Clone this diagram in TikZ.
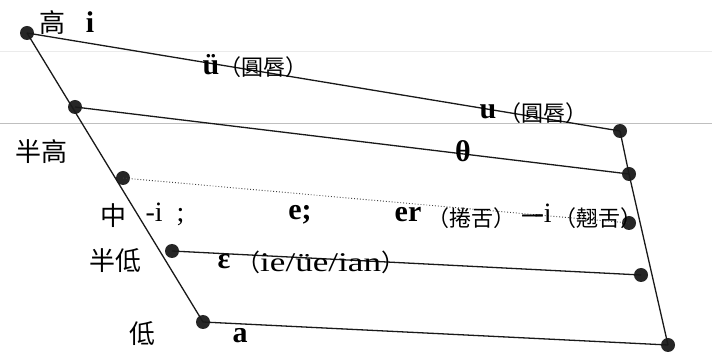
\documentclass[tikz,border=0pt]{standalone}
\usepackage{fontspec}
\usepackage{graphicx}
\setmainfont{Liberation Serif}
\newfontfamily\cjk{Noto Sans CJK TC}
\begin{document}
\begin{tikzpicture}[x=1pt,y=-1pt,
  dot/.style={circle,fill=black!85,inner sep=0pt,minimum size=14pt},
  edge/.style={line width=1.3pt,black!90},
  big/.style={inner sep=0pt,font=\cjk\fontsize{26}{28}\selectfont},
  small/.style={inner sep=0pt,font=\cjk\fontsize{22}{24}\selectfont},
  vowel/.style={inner sep=0pt,font=\bfseries\fontsize{30}{32}\selectfont},
  plain/.style={inner sep=0pt,font=\fontsize{28}{30}\selectfont},
  scanline/.style={line width=0.6pt,black!25}]
\useasboundingbox (0,0) rectangle (712,352);
\fill[white] (0,0) rectangle (712,352);
% scan artefact lines
\coordinate (sl1) at (0,123);
\coordinate (sl2) at (712,123);
\draw[scanline] (sl1) -- (sl2);
\coordinate (sk1) at (0,51);
\coordinate (sk2) at (712,51);
\draw[line width=0.5pt,black!8] (sk1) -- (sk2);
% points
\node[dot] (A) at (27,33) {};
\node[dot] (B) at (75,107) {};
\node[dot] (C) at (123,178) {};
\node[dot] (D) at (172,251) {};
\node[dot] (E) at (203,322) {};
\node[dot] (F) at (620,131) {};
\node[dot] (G) at (629,174) {};
\node[dot] (H) at (629,223) {};
\node[dot] (I) at (641,275) {};
\node[dot] (J) at (668,345) {};
% edges
\draw[edge] (A.center) -- (E.center);
\draw[edge] (F.center) -- (G.center) -- (J.center);
\draw[edge] (A.center) -- (F.center);
\draw[edge] (B.center) -- (G.center);
\draw[line width=0.9pt,dotted,black!75] (C.center) -- (H.center);
\draw[edge] (D.center) -- (I.center);
\draw[edge] (E.center) -- (J.center);
% labels
\node[big] (lgao) at (52,23) {高};
\node[vowel] (vi) at (90,22) {i};
\node[vowel] (vu1) at (211,65) {ü};
\node[small] (r1) at (263,67) {（圓唇）};
\node[vowel] (vu) at (488,112) {u};
\node[small] (r2) at (543,113) {（圓唇）};
\node[vowel] (vo) at (463,151) {θ};
\node[big] (lbg) at (41,152) {半高};
\node[big] (lzh) at (113,216) {中};
\node[plain] (vmi) at (165,214) {-i\,\,\,;};
\node[vowel] (ve) at (300,215) {e;};
\node[vowel] (ver) at (408,215) {er};
\node[small] (r3) at (471,218) {（捲舌）};
\node[plain] (vii) at (537,213) {\textbf{--}\kern-2pt\textbf{-}i};
\node[small] (r4) at (598,218) {（翹舌）};
\node[big] (lbd) at (115,261) {半低};
\node[vowel] (veps) at (224,262) {ε};
\node[inner sep=0pt,anchor=west] (r5) at (236,262) {\cjk\fontsize{24}{26}\selectfont （\fontspec{Liberation Serif}\fontsize{27}{29}\selectfont\scalebox{1.3}[1]{ie/üe/ian}\cjk\fontsize{24}{26}\selectfont ）};
\node[big] (ldi) at (142,334) {低};
\node[vowel] (va) at (240,336) {a};
\end{tikzpicture}
\end{document}
